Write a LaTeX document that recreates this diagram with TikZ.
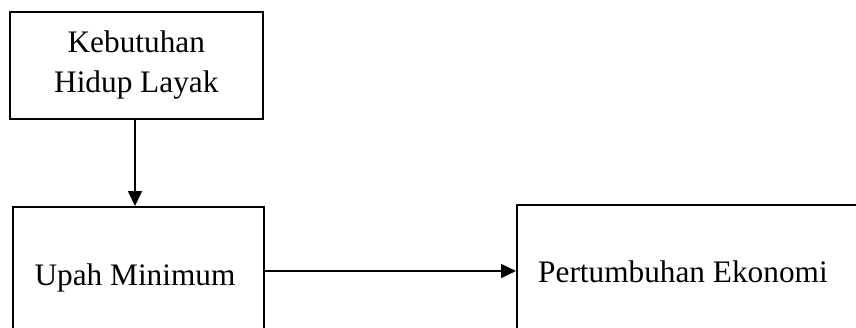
\documentclass[tikz,border=0pt]{standalone}
\usepackage{fontspec}
\setmainfont{Liberation Serif}
\usetikzlibrary{arrows.meta}
\tikzset{
  box/.style={draw=black, line width=1.6pt, rectangle, inner sep=0pt, anchor=north west},
  lbl/.style={font=\fontsize{31.3}{40}\selectfont, inner sep=0pt, anchor=base},
  arr/.style={line width=1.6pt, -{Triangle[length=15pt,width=14pt]}}
}
\begin{document}
\begin{tikzpicture}[x=1pt,y=1pt]
\useasboundingbox (0,0) rectangle (856,-327);
\clip (0,0) rectangle (856,-327);
\fill[white] (0,0) rectangle (856,-327);
\node[box, minimum width=253pt, minimum height=107pt, align=center,
      font=\fontsize{31.3}{40}\selectfont] (khl) at (9,-11) {Kebutuhan\\Hidup Layak};
\node[box, minimum width=251pt, minimum height=200pt] (upah) at (12,-206) {};
\node[box, minimum width=400pt, minimum height=200pt] (pert) at (516,-204) {};
\node[lbl] (upahT) at (135,-285) {Upah Minimum};
\node[lbl, anchor=base west] (pertT) at (538,-282) {Pertumbuhan Ekonomi};
\coordinate (hy) at (0,-271);
\draw[arr] (khl.south -| 135,0) -- (upah.north -| 135,0);
\draw[arr] (upah.east |- hy) -- (pert.west |- hy);
\end{tikzpicture}
\end{document}
